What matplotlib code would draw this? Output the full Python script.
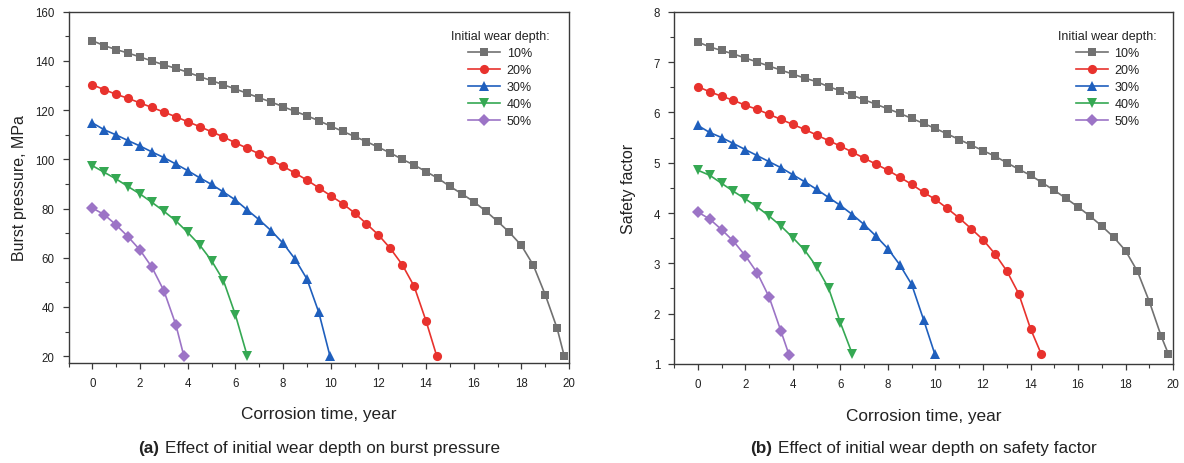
import numpy as np
import matplotlib
matplotlib.use('Agg')
import matplotlib.pyplot as plt
from matplotlib.ticker import MultipleLocator
from matplotlib.offsetbox import TextArea, HPacker, AnnotationBbox

plt.rcParams['font.family'] = ['Liberation Sans', 'DejaVu Sans']

# corrosion time, year (last point of each curve is where it fails)
t10 = [0, 0.5, 1, 1.5, 2, 2.5, 3, 3.5, 4, 4.5, 5, 5.5, 6, 6.5, 7, 7.5, 8, 8.5, 9, 9.5,
       10, 10.5, 11, 11.5, 12, 12.5, 13, 13.5, 14, 14.5, 15, 15.5, 16, 16.5, 17, 17.5,
       18, 18.5, 19, 19.5, 19.8]
t20 = [0, 0.5, 1, 1.5, 2, 2.5, 3, 3.5, 4, 4.5, 5, 5.5, 6, 6.5, 7, 7.5, 8, 8.5, 9, 9.5,
       10, 10.5, 11, 11.5, 12, 12.5, 13, 13.5, 14, 14.45]
t30 = [0, 0.5, 1, 1.5, 2, 2.5, 3, 3.5, 4, 4.5, 5, 5.5, 6, 6.5, 7, 7.5, 8, 8.5, 9, 9.5, 9.97]
t40 = [0, 0.5, 1, 1.5, 2, 2.5, 3, 3.5, 4, 4.5, 5, 5.5, 6, 6.5]
t50 = [0, 0.5, 1, 1.5, 2, 2.5, 3, 3.5, 3.84]

# burst pressure, MPa
bp10 = [148.2, 146.2, 144.6, 143.2, 141.6, 140.0, 138.4, 137.0, 135.4, 133.6, 132.0, 130.3,
        128.6, 126.8, 125.0, 123.3, 121.4, 119.5, 117.7, 115.7, 113.5, 111.4, 109.3, 107.2,
        104.9, 102.6, 100.0, 97.7, 95.0, 92.3, 89.0, 86.0, 82.8, 79.0, 74.8, 70.3, 65.0,
        57.0, 45.0, 31.3, 20.0]
bp20 = [130.3, 128.3, 126.4, 124.8, 122.9, 121.1, 119.2, 117.3, 115.3, 113.3, 111.2, 109.1,
        106.7, 104.5, 102.2, 99.6, 97.2, 94.4, 91.6, 88.4, 85.2, 82.0, 78.2, 73.8, 69.3,
        63.8, 57.2, 48.4, 34.3, 20.0]
bp30 = [114.8, 112.0, 109.9, 107.6, 105.4, 103.0, 100.7, 98.1, 95.4, 92.5, 89.8, 86.7,
        83.5, 79.4, 75.4, 71.0, 65.9, 59.5, 51.4, 37.8, 20.0]
bp40 = [97.4, 94.7, 92.0, 88.9, 85.9, 82.5, 78.9, 75.0, 70.3, 65.2, 58.8, 50.7, 36.8, 20.0]
bp50 = [80.2, 77.5, 73.3, 68.5, 63.1, 56.1, 46.6, 32.8, 20.0]

# safety factor
sf10 = [7.40, 7.30, 7.23, 7.16, 7.08, 7.00, 6.92, 6.84, 6.76, 6.68, 6.61, 6.51, 6.43, 6.34,
        6.25, 6.16, 6.07, 5.98, 5.88, 5.78, 5.68, 5.57, 5.46, 5.35, 5.24, 5.13, 5.00, 4.87,
        4.75, 4.60, 4.45, 4.29, 4.12, 3.94, 3.74, 3.52, 3.25, 2.84, 2.24, 1.55, 1.20]
sf20 = [6.51, 6.41, 6.32, 6.24, 6.14, 6.06, 5.96, 5.86, 5.76, 5.66, 5.55, 5.44, 5.33, 5.21,
        5.09, 4.97, 4.85, 4.71, 4.57, 4.41, 4.27, 4.09, 3.90, 3.69, 3.47, 3.19, 2.85, 2.40,
        1.70, 1.20]
sf30 = [5.74, 5.60, 5.50, 5.38, 5.26, 5.14, 5.02, 4.90, 4.76, 4.62, 4.47, 4.31, 4.15, 3.97,
        3.77, 3.54, 3.29, 2.97, 2.58, 1.88, 1.20]
sf40 = [4.85, 4.75, 4.59, 4.43, 4.28, 4.12, 3.94, 3.74, 3.51, 3.26, 2.93, 2.51, 1.82, 1.20]
sf50 = [4.02, 3.88, 3.67, 3.44, 3.15, 2.81, 2.33, 1.65, 1.18]

labels = ['10%', '20%', '30%', '40%', '50%']
times = [t10, t20, t30, t40, t50]
burst = [bp10, bp20, bp30, bp40, bp50]
safety = [sf10, sf20, sf30, sf40, sf50]

colors = ['#717171', '#e8322d', '#1f5fbd', '#35a853', '#9c74c6']
markers = ['s', 'o', '^', 'v', 'D']
msizes = [5.8, 6.6, 7.2, 7.2, 5.8]

fig = plt.figure(figsize=(11.84, 4.64), dpi=100)
ax1 = fig.add_axes([0.0579, 0.2155, 0.4227, 0.7571])
ax2 = fig.add_axes([0.5693, 0.2134, 0.4215, 0.7592])

spine_col = '#3a3a3a'
txt_col = '#222222'


def style_axes(ax):
    for s in ax.spines.values():
        s.set_color(spine_col)
        s.set_linewidth(1.0)
    ax.tick_params(which='both', direction='out', top=False, right=False,
                   colors=spine_col, labelcolor=txt_col, labelsize=8.3)
    ax.tick_params(which='major', length=4.5, width=0.9, pad=5.5)
    ax.tick_params(which='minor', length=3, width=0.8)
    ax.set_xlim(-1, 20)
    ax.xaxis.set_major_locator(MultipleLocator(2))
    ax.xaxis.set_minor_locator(MultipleLocator(1))


for ax, ydata in [(ax1, burst), (ax2, safety)]:
    for t, y, c, m, ms, lab in zip(times, ydata, colors, markers, msizes, labels):
        ax.plot(t, y, color=c, marker=m, markersize=ms, linewidth=1.2,
                markeredgewidth=0, label=lab)
    style_axes(ax)
    ax.set_xlabel('Corrosion time, year', fontsize=12.4, color=txt_col)
    ax.xaxis.label.set_va('center')
    ax.xaxis.set_label_coords(0.5, -0.145)
    leg = ax.legend(title='Initial wear depth:', frameon=False, fontsize=9,
                    title_fontsize=9, loc='upper center', borderpad=0,
                    handlelength=2.55, handletextpad=0.55, labelspacing=0.4,
                    numpoints=1)
    leg._legend_box.sep = 4
    for txt in leg.get_texts():
        txt.set_color(txt_col)
    leg.get_title().set_color(txt_col)

ax1.legend_.set_bbox_to_anchor((0.862, 0.967), transform=ax1.transAxes)
ax2.legend_.set_bbox_to_anchor((0.869, 0.967), transform=ax2.transAxes)

ax1.set_ylim(17.2, 160)
ax1.yaxis.set_major_locator(MultipleLocator(20))
ax1.yaxis.set_minor_locator(MultipleLocator(10))
ax1.set_ylabel('Burst pressure, MPa', fontsize=11.5, color=txt_col)
ax1.yaxis.label.set_va('center')
ax1.yaxis.set_label_coords(-0.098, 0.5)

ax2.set_ylim(1, 8)
ax2.yaxis.set_major_locator(MultipleLocator(1))
ax2.yaxis.set_minor_locator(MultipleLocator(0.5))
ax2.set_ylabel('Safety factor', fontsize=11.5, color=txt_col)
ax2.yaxis.label.set_va('center')
ax2.yaxis.set_label_coords(-0.092, 0.5)

# captions with a bold tag
captions = [('(a)', 'Effect of initial wear depth on burst pressure', ax1),
            ('(b)', 'Effect of initial wear depth on safety factor', ax2)]
for tag, rest, ax in captions:
    pos = ax.get_position()
    cx = (pos.x0 + pos.x1) / 2
    box = HPacker(children=[TextArea(tag, textprops=dict(weight='bold', size=12.3, color=txt_col)),
                            TextArea(rest, textprops=dict(size=12.3, color=txt_col))],
                  sep=4, pad=0, align='baseline')
    ab = AnnotationBbox(box, (cx, 1 - 449 / 464), xycoords='figure fraction',
                        frameon=False, box_alignment=(0.5, 0.5), pad=0)
    fig.add_artist(ab)

fig.savefig('out.png', dpi=100)
